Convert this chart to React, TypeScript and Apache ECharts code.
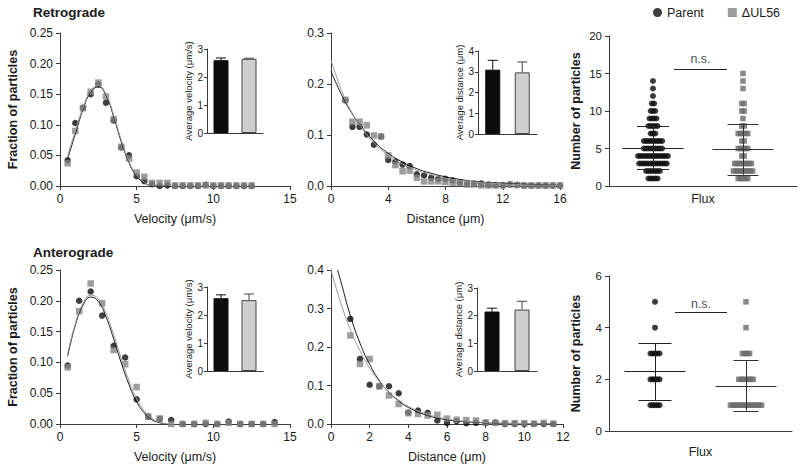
import React, { useEffect, useRef } from 'react';
import * as echarts from 'echarts';

const FONT = '"Liberation Sans", Arial, Helvetica, sans-serif';
const BLACK = '#0d0d0d';
const GRAY = '#848484';
const SWARM_GRAY = '#6a6a6a';
const AXIS = '#3a3a3a';
const TEXT = '#1a1a1a';

// ---------- Retrograde velocity histogram ----------
const retroVelX = [0.5, 1, 1.5, 2, 2.5, 3, 3.5, 4, 4.5, 5, 5.5, 6, 6.5, 7, 7.5, 8, 8.5, 9, 9.5, 10, 10.5, 11, 11.5, 12, 12.5];
const retroVelParent = [0.042, 0.103, 0.128, 0.150, 0.166, 0.136, 0.107, 0.063, 0.050, 0.016, 0.008, 0.003, 0.0, 0.001, 0, 0, 0, 0, 0.002, 0, 0, 0, 0, 0, 0];
const retroVelDelta = [0.037, 0.090, 0.127, 0.154, 0.169, 0.146, 0.109, 0.064, 0.045, 0.022, 0.015, 0.005, 0.005, 0.005, 0.001, 0.001, 0.001, 0.001, 0.001, 0.001, 0.001, 0.001, 0.001, 0.001, 0.001];
const retroVelFitX = [0.5, 1, 1.5, 2, 2.5, 3, 3.5, 4, 4.5, 5, 5.5, 6, 6.5, 7];
const retroVelFitParent = [0.045, 0.085, 0.125, 0.153, 0.162, 0.148, 0.113, 0.072, 0.038, 0.016, 0.005, 0.001, 0.0, 0.0];
const retroVelFitDelta = [0.050, 0.090, 0.128, 0.155, 0.164, 0.150, 0.116, 0.075, 0.040, 0.018, 0.006, 0.001, 0.0, 0.0];

// ---------- Retrograde distance histogram ----------
const retroDistX = [1, 1.5, 2, 2.5, 3, 3.5, 4, 4.5, 5, 5.5, 6, 6.5, 7, 7.5, 8, 8.5, 9, 9.5, 10, 10.5, 11, 11.5, 12, 12.5, 13, 13.5, 14, 14.5, 15, 15.5, 16];
const retroDistParent = [0.168, 0.116, 0.116, 0.101, 0.081, 0.097, 0.051, 0.048, 0.042, 0.039, 0.023, 0.021, 0.016, 0.014, 0.014, 0.011, 0.007, 0.004, 0.005, 0.005, 0.003, 0.002, 0.002, 0.003, 0.002, 0.001, 0.001, 0.001, 0.001, 0.001, 0.001];
const retroDistDelta = [0.169, 0.126, 0.126, 0.119, 0.099, 0.097, 0.060, 0.041, 0.029, 0.030, 0.016, 0.009, 0.009, 0.009, 0.008, 0.006, 0.006, 0.003, 0.003, 0.001, 0.001, 0.001, 0.001, 0.003, 0.002, 0.001, 0.001, 0.001, 0.001, 0.001, 0.001];
const retroDistFitX = [0, 0.5, 1, 1.5, 2, 3, 4, 5, 6, 7, 8, 9, 10, 12, 14, 16];
const retroDistFitParent = [0.225, 0.193, 0.165, 0.141, 0.121, 0.088, 0.064, 0.047, 0.034, 0.025, 0.018, 0.013, 0.009, 0.005, 0.003, 0.001];
const retroDistFitDelta = [0.247, 0.205, 0.170, 0.142, 0.120, 0.085, 0.060, 0.043, 0.031, 0.022, 0.015, 0.011, 0.008, 0.004, 0.002, 0.001];

// ---------- Anterograde velocity histogram ----------
const anteroVelX = [0.5, 1.25, 2, 2.75, 3.5, 4.25, 5, 5.75, 6.5, 7.25, 8, 8.75, 9.5, 10.25, 11, 11.75, 12.5, 13.25, 14];
const anteroVelParent = [0.095, 0.200, 0.215, 0.176, 0.127, 0.108, 0.040, 0.012, 0.008, 0.0065, 0, 0, 0, 0, 0.004, 0, 0, 0, 0.003];
const anteroVelDelta = [0.092, 0.183, 0.228, 0.196, 0.120, 0.097, 0.060, 0.012, 0.009, 0, 0, 0, 0.002, 0, 0.002, 0, 0, 0, 0];
const anteroVelFitX = [0.5, 1, 1.5, 2, 2.5, 3, 3.5, 4, 4.5, 5, 5.5, 6, 6.5, 7];
const anteroVelFitParent = [0.110, 0.160, 0.193, 0.206, 0.199, 0.174, 0.138, 0.099, 0.064, 0.036, 0.018, 0.007, 0.002, 0.0];
const anteroVelFitDelta = [0.115, 0.163, 0.196, 0.209, 0.203, 0.180, 0.145, 0.106, 0.070, 0.041, 0.021, 0.009, 0.003, 0.0];

// ---------- Anterograde distance histogram ----------
const anteroDistX = [1, 1.5, 2, 2.5, 3, 3.5, 4, 4.5, 5, 5.5, 6, 6.5, 7, 7.5, 8, 8.5, 9, 9.5, 10, 10.5, 11, 11.5];
const anteroDistParent = [0.273, 0.169, 0.102, 0.098, 0.098, 0.080, 0.030, 0.035, 0.029, 0.009, 0.003, 0.007, 0.002, 0.003, 0.003, 0.004, 0, 0, 0, 0, 0, 0];
const anteroDistDelta = [0.230, 0.156, 0.169, 0.098, 0.074, 0.052, 0.028, 0.026, 0.022, 0.024, 0.014, 0.011, 0.010, 0.009, 0.004, 0.003, 0.002, 0.002, 0.002, 0.001, 0.003, 0.001];
const anteroDistFitParentX = [0.34, 0.5, 1, 1.5, 2, 2.5, 3, 3.5, 4, 5, 6, 7, 8, 9, 10, 11.5];
const anteroDistFitParent = [0.4, 0.372, 0.282, 0.21, 0.155, 0.113, 0.082, 0.06, 0.043, 0.022, 0.011, 0.006, 0.003, 0.0015, 0.001, 0.0];
const anteroDistFitDeltaX = [0, 0.5, 1, 1.5, 2, 2.5, 3, 3.5, 4, 5, 6, 7, 8, 9, 10, 11.5];
const anteroDistFitDelta = [0.4, 0.315, 0.245, 0.19, 0.145, 0.11, 0.083, 0.062, 0.046, 0.025, 0.013, 0.007, 0.004, 0.002, 0.001, 0.0];

// ---------- Inset bars (mean, SEM) ----------
const insetCats = ['Parent', 'ΔUL56'];
const retroVelMean = [2.6, 2.65];
const retroVelErr = [0.08, 0.02];
const retroDistMean = [3.1, 2.97];
const retroDistErr = [0.45, 0.5];
const anteroVelMean = [2.6, 2.53];
const anteroVelErr = [0.12, 0.22];
const anteroDistMean = [2.15, 2.22];
const anteroDistErr = [0.12, 0.3];

// ---------- Flux scatter (counts of particles per value) ----------
const retroFluxParentValues = [1, 2, 3, 4, 5, 6, 7, 8, 9, 10, 11, 12, 13, 14];
const retroFluxParentCounts = [5, 7, 13, 14, 9, 9, 3, 5, 4, 3, 2, 1, 1, 1];
const retroFluxDeltaValues = [1, 2, 3, 4, 5, 6, 7, 8, 9, 10, 11, 13, 14, 15];
const retroFluxDeltaCounts = [5, 9, 8, 2, 5, 2, 5, 2, 1, 2, 2, 1, 1, 1];
const anteroFluxParentValues = [1, 2, 3, 4, 5];
const anteroFluxParentCounts = [5, 5, 5, 1, 1];
const anteroFluxDeltaValues = [1, 2, 3, 4, 5];
const anteroFluxDeltaCounts = [14, 7, 4, 1, 1];
// mean, -SD, +SD
const retroFluxParentStats = [5.1, 2.3, 8.0];
const retroFluxDeltaStats = [4.9, 1.5, 8.3];
const anteroFluxParentStats = [2.3, 1.2, 3.4];
const anteroFluxDeltaStats = [1.75, 0.78, 2.75];
const retroNsLevel = 15.6;
const anteroNsLevel = 4.6;

const pairs = (xs: number[], ys: number[]) => xs.map((x, i) => [x, ys[i]]);

function swarm(values: number[], counts: number[], center: number, step: number) {
  const pts: number[][] = [];
  values.forEach((v, k) => {
    const n = counts[k];
    for (let i = 0; i < n; i++) pts.push([center + (i - (n - 1) / 2) * step, v]);
  });
  return pts;
}

function summarySegs(stats: number[], center: number, meanHalf: number, capHalf: number) {
  const [m, lo, hi] = stats;
  return [
    [[center - meanHalf, m], [center + meanHalf, m]],
    [[center, lo], [center, hi]],
    [[center - capHalf, lo], [center + capHalf, lo]],
    [[center - capHalf, hi], [center + capHalf, hi]],
  ];
}

const axisLine = { show: true, onZero: false, lineStyle: { color: AXIS, width: 1 } };

function mainX(gridIndex: number, max: number, interval: number, name: string) {
  return {
    type: 'value', gridIndex, min: 0, max, interval, name, nameLocation: 'middle', nameGap: 26,
    nameTextStyle: { fontSize: 12.5, color: TEXT, fontFamily: FONT },
    axisLine, axisTick: { show: true, length: 4, lineStyle: { color: AXIS } },
    axisLabel: { fontSize: 12, color: TEXT, fontFamily: FONT, margin: 7 },
    splitLine: { show: false },
  };
}
function mainY(gridIndex: number, max: number, interval: number, digits: number, name: string) {
  return {
    type: 'value', gridIndex, min: 0, max, interval, name, nameLocation: 'middle', nameGap: 41,
    nameTextStyle: { fontSize: 12.5, fontWeight: 'bold', color: TEXT, fontFamily: FONT },
    axisLine, axisTick: { show: true, length: 4, lineStyle: { color: AXIS } },
    axisLabel: { fontSize: 12, color: TEXT, fontFamily: FONT, margin: 7, formatter: (v: number) => v.toFixed(digits) },
    splitLine: { show: false },
  };
}
function insetX(gridIndex: number) {
  return {
    type: 'category', gridIndex, data: insetCats,
    axisLine, axisTick: { show: false }, axisLabel: { show: false }, splitLine: { show: false },
  };
}
function insetY(gridIndex: number, max: number, name: string) {
  return {
    type: 'value', gridIndex, min: 0, max, interval: 1, name, nameLocation: 'middle', nameGap: 13,
    nameTextStyle: { fontSize: 9.5, color: TEXT, fontFamily: FONT },
    axisLine, axisTick: { show: true, length: 3, lineStyle: { color: AXIS } },
    axisLabel: { fontSize: 10, color: TEXT, fontFamily: FONT, margin: 4 },
    splitLine: { show: false },
  };
}
function fluxX(gridIndex: number) {
  return {
    type: 'value', gridIndex, min: 0, max: 1, name: 'Flux', nameLocation: 'middle', nameGap: 6,
    nameTextStyle: { fontSize: 12.5, color: TEXT, fontFamily: FONT, verticalAlign: 'top' },
    axisLine, axisTick: { show: false }, axisLabel: { show: false }, splitLine: { show: false },
  };
}
function fluxY(gridIndex: number, max: number, interval: number) {
  return {
    type: 'value', gridIndex, min: 0, max, interval, name: 'Number of particles', nameLocation: 'middle', nameGap: 27,
    nameTextStyle: { fontSize: 12.5, fontWeight: 'bold', color: TEXT, fontFamily: FONT },
    axisLine, axisTick: { show: true, length: 4, lineStyle: { color: AXIS } },
    axisLabel: { fontSize: 11.5, color: TEXT, fontFamily: FONT, margin: 7 },
    splitLine: { show: false },
  };
}

function histSeries(idx: number, xs: number[], parent: number[], delta: number[], fitPX: number[], fitP: number[], fitDX: number[], fitD: number[]) {
  return [
    { type: 'line', name: 'fitP' + idx, xAxisIndex: idx, yAxisIndex: idx, data: pairs(fitPX, fitP), smooth: true, showSymbol: false, symbol: 'none', lineStyle: { color: '#1a1a1a', width: 1 }, z: 4, silent: true },
    { type: 'line', name: 'fitD' + idx, xAxisIndex: idx, yAxisIndex: idx, data: pairs(fitDX, fitD), smooth: true, showSymbol: false, symbol: 'none', lineStyle: { color: '#9a9a9a', width: 1 }, z: 4, silent: true },
    { type: 'scatter', name: 'Parent', xAxisIndex: idx, yAxisIndex: idx, data: pairs(xs, parent), symbol: 'circle', symbolSize: 6.5, itemStyle: { color: BLACK }, z: 2 },
    { type: 'scatter', name: 'ΔUL56', xAxisIndex: idx, yAxisIndex: idx, data: pairs(xs, delta), symbol: 'rect', symbolSize: 6.5, itemStyle: { color: GRAY }, z: 3 },
  ];
}

function insetSeries(idx: number, means: number[], errs: number[]) {
  return [
    {
      type: 'bar', xAxisIndex: idx, yAxisIndex: idx, barWidth: 15,
      data: means.map((m, i) => ({ value: m, itemStyle: { color: i === 0 ? BLACK : '#cfcfcf', borderColor: i === 0 ? BLACK : '#444', borderWidth: 1 } })),
      z: 2, silent: true,
    },
    {
      type: 'custom', xAxisIndex: idx, yAxisIndex: idx, z: 3, silent: true,
      data: means.map((m, i) => [i, m, m + errs[i]]),
      renderItem: (params: any, api: any) => {
        const base = api.coord([api.value(0), api.value(1)]);
        const top = api.coord([api.value(0), api.value(2)]);
        const color = params.dataIndex === 0 ? BLACK : '#444';
        return {
          type: 'group',
          children: [
            { type: 'line', shape: { x1: base[0], y1: base[1], x2: top[0], y2: top[1] }, style: { stroke: color, lineWidth: 1 } },
            { type: 'line', shape: { x1: top[0] - 5, y1: top[1], x2: top[0] + 5, y2: top[1] }, style: { stroke: color, lineWidth: 1 } },
          ],
        };
      },
    },
  ];
}

function fluxSeries(idx: number, width: number, pc: number, dc: number,
  pv: number[], pcnt: number[], dv: number[], dcnt: number[], ps: number[], ds: number[], ns: number,
  capP: number, capD: number, nsFrom: number, nsTo: number, nsDist: number) {
  const stepC = 2.3 / width;
  const stepS = 2.4 / width;
  const meanHalf = 30.5 / width;
  return [
    { type: 'scatter', name: 'Parent', xAxisIndex: idx, yAxisIndex: idx, data: swarm(pv, pcnt, pc, stepC), symbol: 'circle', symbolSize: 6, itemStyle: { color: BLACK }, z: 2 },
    { type: 'scatter', name: 'ΔUL56', xAxisIndex: idx, yAxisIndex: idx, data: swarm(dv, dcnt, dc, stepS), symbol: 'rect', symbolSize: 5.5, itemStyle: { color: SWARM_GRAY }, z: 2 },
    { type: 'lines', coordinateSystem: 'cartesian2d', xAxisIndex: idx, yAxisIndex: idx, z: 4, silent: true,
      data: summarySegs(ps, pc, meanHalf, capP / width).map((c) => ({ coords: c })), lineStyle: { color: '#222', width: 1, opacity: 1 } },
    { type: 'lines', coordinateSystem: 'cartesian2d', xAxisIndex: idx, yAxisIndex: idx, z: 4, silent: true,
      data: summarySegs(ds, dc, meanHalf, capD / width).map((c) => ({ coords: c })), lineStyle: { color: '#333', width: 1, opacity: 1 } },
    { type: 'lines', coordinateSystem: 'cartesian2d', xAxisIndex: idx, yAxisIndex: idx, z: 4, silent: true,
      data: [{ coords: [[nsFrom / width, ns], [nsTo / width, ns]] }], lineStyle: { color: '#222', width: 1, opacity: 1 } },
    { type: 'scatter', xAxisIndex: idx, yAxisIndex: idx, data: [[(nsFrom + nsTo) / 2 / width, ns]], symbolSize: 1, silent: true,
      itemStyle: { color: 'transparent' },
      label: { show: true, position: 'top', distance: nsDist, formatter: 'n.s.', fontSize: 12.5, color: TEXT, fontFamily: FONT } },
  ];
}

export default function App() {
  const ref = useRef<HTMLDivElement>(null);
  useEffect(() => {
    if (!ref.current) return;
    const chart = echarts.init(ref.current, undefined, { renderer: 'svg' });
    const option: any = {
      animation: false,
      backgroundColor: '#ffffff',
      textStyle: { fontFamily: FONT },
      title: [
        { text: 'Retrograde', left: 33, top: 5, padding: 0, textStyle: { fontSize: 13.5, fontWeight: 'bold', color: TEXT, fontFamily: FONT } },
        { text: 'Anterograde', left: 33, top: 245, padding: 0, textStyle: { fontSize: 13.5, fontWeight: 'bold', color: TEXT, fontFamily: FONT } },
      ],
      legend: {
        left: 653, top: 6, padding: 0, itemWidth: 9, itemHeight: 9, itemGap: 24, selectedMode: false,
        textStyle: { fontSize: 12.5, color: TEXT, fontFamily: FONT },
        data: [{ name: 'Parent', icon: 'circle' }, { name: 'ΔUL56', icon: 'rect' }],
      },
      grid: [
        { left: 60, top: 33, width: 230, height: 153 },
        { left: 207, top: 49, width: 56, height: 84 },
        { left: 331, top: 33, width: 229, height: 153 },
        { left: 478, top: 51, width: 59, height: 83 },
        { left: 609, top: 36, width: 188, height: 150 },
        { left: 60, top: 270, width: 230, height: 154 },
        { left: 207, top: 287, width: 56, height: 84 },
        { left: 331, top: 270, width: 232, height: 154 },
        { left: 477, top: 288, width: 60, height: 83 },
        { left: 609, top: 276, width: 183, height: 155 },
      ],
      xAxis: [
        mainX(0, 15, 5, 'Velocity (μm/s)'),
        insetX(1),
        mainX(2, 16, 4, 'Distance (μm)'),
        insetX(3),
        fluxX(4),
        mainX(5, 15, 5, 'Velocity (μm/s)'),
        insetX(6),
        mainX(7, 12, 2, 'Distance (μm)'),
        insetX(8),
        { ...fluxX(9), nameGap: 14 },
      ],
      yAxis: [
        mainY(0, 0.25, 0.05, 2, 'Fraction of particles'),
        insetY(1, 3, 'Average velocity (μm/s)'),
        mainY(2, 0.3, 0.1, 1, ''),
        insetY(3, 4, 'Average distance (μm)'),
        fluxY(4, 20, 5),
        mainY(5, 0.25, 0.05, 2, 'Fraction of particles'),
        insetY(6, 3, 'Average velocity (μm/s)'),
        mainY(7, 0.4, 0.1, 1, ''),
        insetY(8, 3, 'Average distance (μm)'),
        fluxY(9, 6, 2),
      ],
      series: [
        ...histSeries(0, retroVelX, retroVelParent, retroVelDelta, retroVelFitX, retroVelFitParent, retroVelFitX, retroVelFitDelta),
        ...insetSeries(1, retroVelMean, retroVelErr),
        ...histSeries(2, retroDistX, retroDistParent, retroDistDelta, retroDistFitX, retroDistFitParent, retroDistFitX, retroDistFitDelta),
        ...insetSeries(3, retroDistMean, retroDistErr),
        ...fluxSeries(4, 188, 44 / 188, 134 / 188, retroFluxParentValues, retroFluxParentCounts, retroFluxDeltaValues, retroFluxDeltaCounts,
          retroFluxParentStats, retroFluxDeltaStats, retroNsLevel, 16, 15.5, 65, 118, 3),
        ...histSeries(5, anteroVelX, anteroVelParent, anteroVelDelta, anteroVelFitX, anteroVelFitParent, anteroVelFitX, anteroVelFitDelta),
        ...insetSeries(6, anteroVelMean, anteroVelErr),
        ...histSeries(7, anteroDistX, anteroDistParent, anteroDistDelta, anteroDistFitParentX, anteroDistFitParent, anteroDistFitDeltaX, anteroDistFitDelta),
        ...insetSeries(8, anteroDistMean, anteroDistErr),
        ...fluxSeries(9, 183, 46 / 183, 137 / 183, anteroFluxParentValues, anteroFluxParentCounts, anteroFluxDeltaValues, anteroFluxDeltaCounts,
          anteroFluxParentStats, anteroFluxDeltaStats, anteroNsLevel, 16.5, 12.5, 66, 118, 1),
      ],
    };
    chart.setOption(option);
    return () => chart.dispose();
  }, []);
  return <div ref={ref} style={{ position: 'fixed', left: 0, top: 0, width: 800, height: 472, background: '#fff' }} />;
}
